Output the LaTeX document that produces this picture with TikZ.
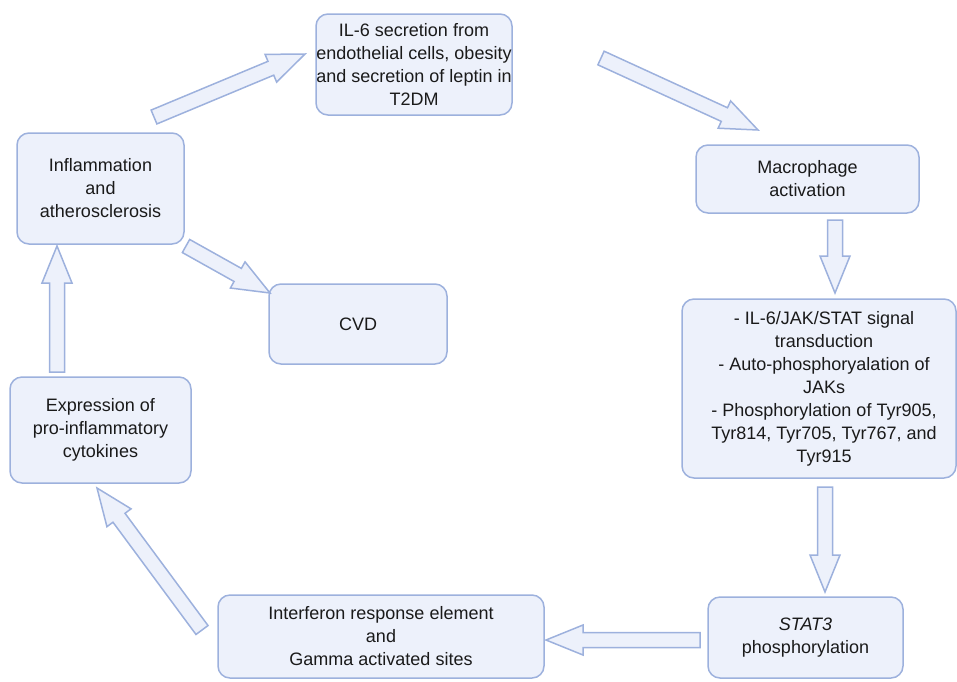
\documentclass[tikz,border=0pt]{standalone}
\usepackage{fontspec}
\setmainfont{Liberation Sans}
\usetikzlibrary{calc}
\definecolor{boxfill}{HTML}{EDF1FB}
\definecolor{boxline}{HTML}{9DB1DD}
\definecolor{txt}{HTML}{1A1A1A}
\tikzset{
  box/.style={draw=boxline, fill=boxfill, line width=1.5pt, rounded corners=12pt,
    align=center, font=\fontsize{18}{23}\selectfont, text=txt, inner sep=0pt},
  barrow/.style={draw=boxline, fill=boxfill, line width=1.5pt, line join=miter}
}
\newcommand{\blockarrow}[2]{%
  \draw[barrow] let \p1=(#1), \p2=(#2), \n1={atan2(\y2-\y1,\x2-\x1)} in
    ($(\p1)+(\n1+90:7.5pt)$) -- ($(\p2)+(\n1+180:37pt)+(\n1+90:7.5pt)$)
    -- ($(\p2)+(\n1+180:37pt)+(\n1+90:15pt)$) -- (\p2)
    -- ($(\p2)+(\n1+180:37pt)+(\n1-90:15pt)$) -- ($(\p2)+(\n1+180:37pt)+(\n1-90:7.5pt)$)
    -- ($(\p1)+(\n1-90:7.5pt)$) -- cycle;}
\begin{document}
\begin{tikzpicture}[x=1pt,y=-1pt]
\useasboundingbox (0,0) rectangle (957,681);
% boxes
\node[box, minimum width=196pt, minimum height=101pt] (il6) at (414,64.5)
  {IL-6 secretion from\\endothelial cells, obesity\\and secretion of leptin in\\T2DM};
\node[box, minimum width=223pt, minimum height=68pt] (macro) at (807.5,179)
  {Macrophage\\activation};
\node[box, minimum width=274pt, minimum height=179pt] (jak) at (819,388.5)
  {\hspace*{10pt}- IL-6/JAK/STAT signal\\\hspace*{10pt}transduction\\\hspace*{10pt}- Auto-phosphoryalation of\\\hspace*{10pt}JAKs\\\hspace*{10pt}- Phosphorylation of Tyr905,\\\hspace*{10pt}Tyr814, Tyr705, Tyr767, and\\\hspace*{10pt}Tyr915};
\node[box, minimum width=195pt, minimum height=81pt] (stat) at (805.5,637.5)
  {\textit{STAT3}\\phosphorylation};
\node[box, minimum width=326pt, minimum height=83pt] (ifn) at (381,636.5)
  {Interferon response element\\and\\Gamma activated sites};
\node[box, minimum width=181pt, minimum height=106pt] (expr) at (100.5,430)
  {Expression of\\pro-inflammatory\\cytokines};
\node[box, minimum width=167pt, minimum height=111pt] (infl) at (100.5,188.5)
  {Inflammation\\and\\atherosclerosis};
\node[box, minimum width=178pt, minimum height=80pt] (cvd) at (358,324)
  {CVD};
% connector ends
\coordinate (infl-a) at (154,117);  \coordinate (il6-in) at (305,54);
\coordinate (il6-out) at (601,58);  \coordinate (macro-in) at (758,130);
\coordinate (macro-out) at (835,220); \coordinate (jak-in) at (835,293);
\coordinate (jak-out) at (825,487); \coordinate (stat-in) at (825,592);
\coordinate (stat-out) at (700,640); \coordinate (ifn-in) at (546,640);
\coordinate (ifn-out) at (202,630); \coordinate (expr-in) at (97,488);
\coordinate (expr-out) at (57,372); \coordinate (infl-in) at (57,246);
\coordinate (infl-b) at (186,246); \coordinate (cvd-in) at (270,293);
% arrows
\blockarrow{infl-a}{il6-in}
\blockarrow{il6-out}{macro-in}
\blockarrow{macro-out}{jak-in}
\blockarrow{jak-out}{stat-in}
\blockarrow{stat-out}{ifn-in}
\blockarrow{ifn-out}{expr-in}
\blockarrow{expr-out}{infl-in}
\blockarrow{infl-b}{cvd-in}
\end{tikzpicture}
\end{document}
